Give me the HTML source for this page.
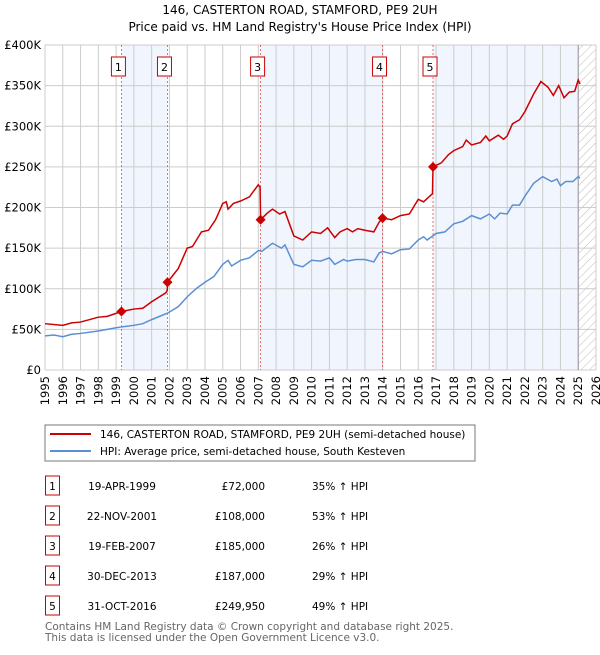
<!DOCTYPE html><html><head><meta charset="utf-8"><style>
body{margin:0;background:#fff;font-family:"Liberation Sans","DejaVu Sans",sans-serif}
</style></head><body>
<svg width="600" height="650" xmlns="http://www.w3.org/2000/svg" font-family="DejaVu Sans, Liberation Sans, sans-serif">
<defs><pattern id="hatch" width="6" height="6" patternUnits="userSpaceOnUse" patternTransform="rotate(45)"><line x1="0" y1="0" x2="0" y2="6" stroke="#bbb" stroke-width="1"/></pattern></defs>
<text x="300" y="14" text-anchor="middle" font-size="12">146, CASTERTON ROAD, STAMFORD, PE9 2UH</text>
<text x="300" y="31" text-anchor="middle" font-size="12">Price paid vs. HM Land Registry's House Price Index (HPI)</text>
<g id="plot"></g>
<rect x="45" y="425" width="430" height="36" fill="#fff" stroke="#777"/>
<line x1="50" y1="434" x2="91" y2="434" stroke="#cc0000" stroke-width="2"/>
<text x="100" y="438" font-size="10.5">146, CASTERTON ROAD, STAMFORD, PE9 2UH (semi-detached house)</text>
<line x1="50" y1="451" x2="91" y2="451" stroke="#5b8fd4" stroke-width="2"/>
<text x="100" y="455" font-size="10.5">HPI: Average price, semi-detached house, South Kesteven</text>
<g id="table" font-size="10.5"></g>
<text x="45" y="630" font-size="10.5" fill="#666">Contains HM Land Registry data © Crown copyright and database right 2025.</text>
<text x="45" y="641" font-size="10.5" fill="#666">This data is licensed under the Open Government Licence v3.0.</text>
</svg>
<script>
const yTicks=[0,50,100,150,200,250,300,350,400];
const yTickLabels=["£0","£50K","£100K","£150K","£200K","£250K","£300K","£350K","£400K"];
const years=[1995,1996,1997,1998,1999,2000,2001,2002,2003,2004,2005,2006,2007,2008,2009,2010,2011,2012,2013,2014,2015,2016,2017,2018,2019,2020,2021,2022,2023,2024,2025,2026];
const hpiT=[1995,1995.5,1996,1996.5,1997,1998,1999,1999.3,2000,2000.5,2001,2001.9,2002.5,2003,2003.5,2004,2004.5,2005,2005.3,2005.5,2006,2006.5,2007,2007.2,2007.8,2008.3,2008.5,2009,2009.5,2010,2010.5,2011,2011.3,2011.8,2012,2012.5,2013,2013.5,2013.8,2014,2014.5,2015,2015.5,2016,2016.3,2016.5,2017,2017.5,2018,2018.5,2019,2019.5,2020,2020.3,2020.6,2021,2021.3,2021.7,2022,2022.5,2023,2023.5,2023.8,2024,2024.3,2024.7,2025,2025.1];
const hpiV=[42,43,41,44,45,48,52,53,55,57,62,70,78,90,100,108,115,130,135,128,135,138,147,146,156,150,154,130,127,135,134,138,130,136,134,136,136,133,144,146,143,148,149,160,164,160,168,170,180,183,190,186,192,186,193,192,203,203,214,230,238,232,235,227,232,232,238,236];
const priceT=[1995,1996,1996.5,1997,1998,1998.5,1999.3,2000,2000.5,2001,2001.8,2001.88,2001.89,2002.5,2003,2003.3,2003.8,2004.2,2004.6,2005,2005.2,2005.3,2005.6,2006,2006.5,2007,2007.1,2007.13,2007.5,2007.8,2008.2,2008.5,2009,2009.5,2010,2010.5,2010.9,2011.3,2011.6,2012,2012.3,2012.6,2013,2013.5,2013.8,2013.99,2014.5,2015,2015.5,2016,2016.3,2016.8,2016.83,2017.3,2017.7,2018,2018.5,2018.7,2019,2019.5,2019.8,2020,2020.5,2020.8,2021,2021.3,2021.7,2022,2022.5,2022.9,2023.3,2023.6,2023.9,2024.2,2024.5,2024.8,2025,2025.1];
const priceV=[57,55,58,59,65,66,72,75,76,84,95,98,108,125,150,152,170,172,185,205,207,198,205,208,213,228,225,185,193,198,192,195,165,160,170,168,175,163,170,174,170,174,172,170,182,187,185,190,192,210,207,217,249.95,255,265,270,275,283,277,280,288,282,289,284,288,303,308,318,340,355,348,338,350,335,342,343,357,352];
const saleIds=["1","2","3","4","5"];
const saleT=[1999.3,2001.89,2007.13,2013.99,2016.83];
const saleV=[72,108,185,187,249.95];
const saleDates=["19-APR-1999","22-NOV-2001","19-FEB-2007","30-DEC-2013","31-OCT-2016"];
const salePrices=["£72,000","£108,000","£185,000","£187,000","£249,950"];
const saleHpi=["35% ↑ HPI","53% ↑ HPI","26% ↑ HPI","29% ↑ HPI","49% ↑ HPI"];
const X0=45,X1=596,Y0=370,Y1=45;
const xS=t=>X0+(t-1995)/(2026-1995)*(X1-X0);
const yS=v=>Y0-v/400*(Y0-Y1);
const NS="http://www.w3.org/2000/svg";
const g=document.getElementById('plot');
function mk(tag,a,p){const e=document.createElementNS(NS,tag);for(const k in a)e.setAttribute(k,a[k]);(p||g).appendChild(e);return e;}
let e;
e=mk('rect',{x:X0,y:Y1,width:X1-X0,height:Y0-Y1,fill:'#fff'});


const shades=[[saleT[0],saleT[1]],[saleT[2],saleT[3]],[saleT[4],2025]];
shades.forEach(s=>{e=mk('rect',{x:xS(s[0]),y:Y1,width:xS(s[1])-xS(s[0]),height:Y0-Y1,fill:'#eef3fc',opacity:0.8});

});
e=mk('rect',{x:xS(2025),y:Y1,width:X1-xS(2025),height:Y0-Y1,fill:'url(#hatch)'});


years.forEach((y,i)=>{e=mk('line',{x1:xS(y),x2:xS(y),y1:Y1,y2:Y0,stroke:'#ccc'});


e=mk('text',{x:0,y:0,'font-size':11.5,'text-anchor':'end',transform:`translate(${xS(y)+4},${Y0+6}) rotate(-90)`});e.textContent=y;

});
yTicks.forEach((v,i)=>{e=mk('line',{x1:X0,x2:X1,y1:yS(v),y2:yS(v),stroke:'#ccc'});


e=mk('text',{x:X0-4,y:yS(v)+4,'font-size':11.5,'text-anchor':'end'});e.textContent=yTickLabels[i];

});
e=mk('line',{x1:xS(2025),x2:xS(2025),y1:Y1,y2:Y0,stroke:'#999'});


saleT.forEach((t,i)=>{e=mk('line',{x1:xS(t),x2:xS(t),y1:Y1,y2:Y0,stroke:'#e05050','stroke-dasharray':'2,2','stroke-width':0.8});


e=mk('rect',{x:xS(t)-10,y:57,width:14,height:19,fill:'#fff',stroke:'#cc0000'});


e=mk('text',{x:xS(t)-3,y:71,'font-size':11,'text-anchor':'middle'});e.textContent=saleIds[i];

});
e=mk('polyline',{points:hpiT.map((t,i)=>xS(t)+','+yS(hpiV[i])).join(' '),fill:'none',stroke:'#5b8fd4','stroke-width':1.5});


e=mk('polyline',{points:priceT.map((t,i)=>xS(t)+','+yS(priceV[i])).join(' '),fill:'none',stroke:'#cc0000','stroke-width':1.5});


saleT.forEach((t,i)=>{const x=xS(t),y=yS(saleV[i]);e=mk('polygon',{points:`${x},${y-5} ${x+5},${y} ${x},${y+5} ${x-5},${y}`,fill:'#cc0000'});

});
const tb=document.getElementById('table');
saleIds.forEach((id,i)=>{const y=488+i*30;
e=mk('rect',{x:45.5,y:y-12,width:14,height:19,fill:'#fff',stroke:'#cc0000'},tb);


e=mk('text',{x:52.5,y:y+2,'text-anchor':'middle'},tb);e.textContent=id;


e=mk('text',{x:122,y:y+2,'text-anchor':'middle'},tb);e.textContent=saleDates[i];


e=mk('text',{x:265,y:y+2,'text-anchor':'end'},tb);e.textContent=salePrices[i];


e=mk('text',{x:312,y:y+2},tb);e.textContent=saleHpi[i];

});
</script>
</body></html>
